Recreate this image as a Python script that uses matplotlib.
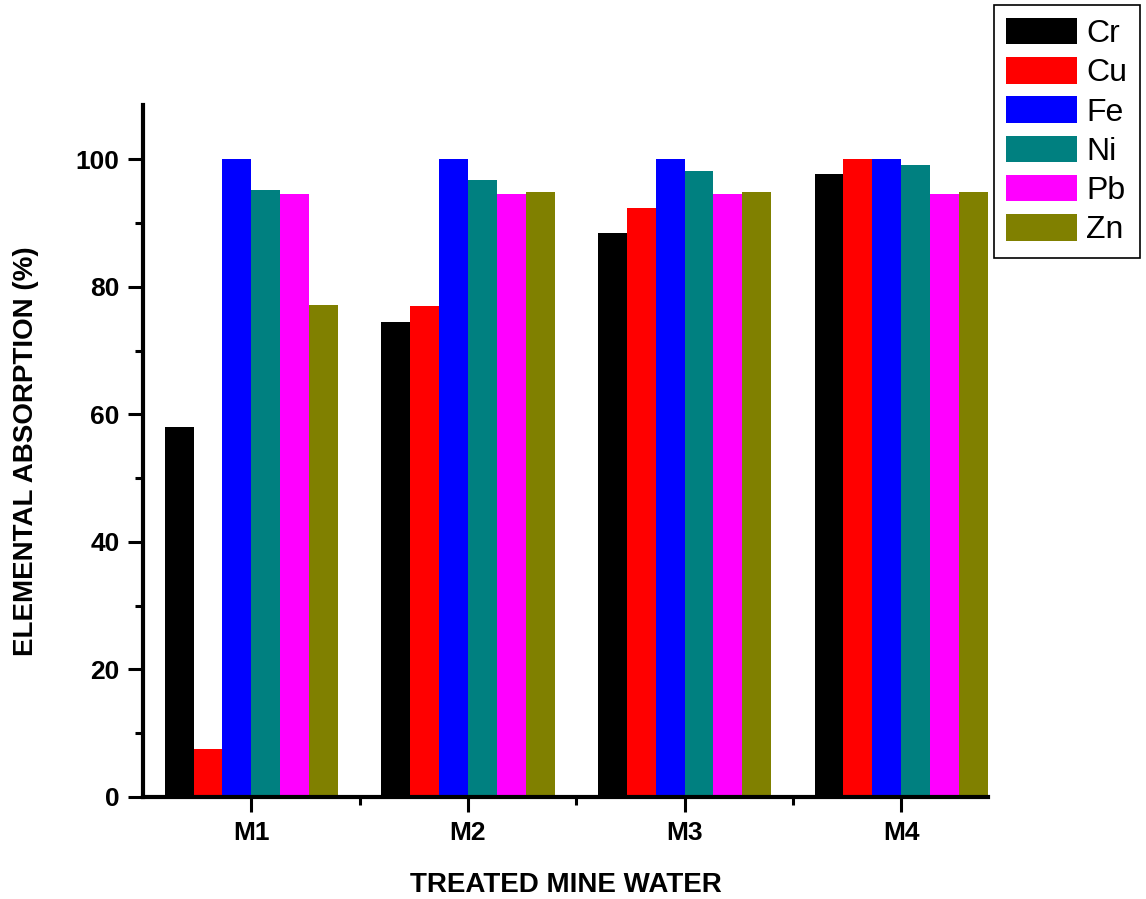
import numpy as np
import matplotlib.pyplot as plt
from matplotlib.ticker import MultipleLocator, FixedLocator

plt.rcParams['font.family'] = ['Liberation Sans', 'DejaVu Sans']

samples = ['M1', 'M2', 'M3', 'M4']
elements = ['Cr', 'Cu', 'Fe', 'Ni', 'Pb', 'Zn']
colors = ['#000000', '#FF0000', '#0000FF', '#008080', '#FF00FF', '#808000']
values = {
    'Cr': [58.1, 74.5, 88.4, 97.7],
    'Cu': [7.5, 77.0, 92.4, 100.0],
    'Fe': [100.0, 100.0, 100.0, 100.0],
    'Ni': [95.2, 96.7, 98.1, 99.1],
    'Pb': [94.5, 94.5, 94.5, 94.5],
    'Zn': [77.1, 94.9, 94.9, 94.9],
}

fig = plt.figure(figsize=(11.46, 8.99), dpi=100)
ax = fig.add_axes([0.1248, 0.1135, 0.862 - 0.1248, 0.883 - 0.1135])

x = np.arange(1, len(samples) + 1)
w = 0.8 / len(elements)
for i, el in enumerate(elements):
    ax.bar(x + (i - 2.5) * w, values[el], width=w, color=colors[i],
           label=el, linewidth=0)

ax.set_xlim(0.5, 4.4)
ax.set_ylim(0, 108.5)
ax.set_xticks(x)
ax.set_xticklabels(samples)
ax.xaxis.set_minor_locator(FixedLocator([1.5, 2.5, 3.5]))
ax.yaxis.set_major_locator(MultipleLocator(20))
ax.yaxis.set_minor_locator(MultipleLocator(10))

for s in ['top', 'right']:
    ax.spines[s].set_visible(False)
for s in ['left', 'bottom']:
    ax.spines[s].set_linewidth(3)
ax.tick_params(which='major', direction='out', length=11, width=2.2, pad=6,
               labelsize=19)
ax.tick_params(which='minor', direction='out', length=6, width=2.2)
for lab in ax.get_xticklabels() + ax.get_yticklabels():
    lab.set_fontweight('bold')

ax.set_xlabel('TREATED MINE WATER', fontsize=20, fontweight='bold', labelpad=20)
ax.set_ylabel('ELEMENTAL ABSORPTION (%)', fontsize=20, fontweight='bold', labelpad=26)

leg = fig.legend(loc='upper right', bbox_to_anchor=(1140 / 1146, 1 - 5 / 899),
                 fontsize=23, handlelength=2.2, handleheight=0.9,
                 labelspacing=0.25, handletextpad=0.3, borderpad=0.4,
                 borderaxespad=0, fancybox=False, framealpha=1)
leg.get_frame().set_edgecolor('black')
leg.get_frame().set_linewidth(1.2)

fig.savefig('out.png', dpi=100)
